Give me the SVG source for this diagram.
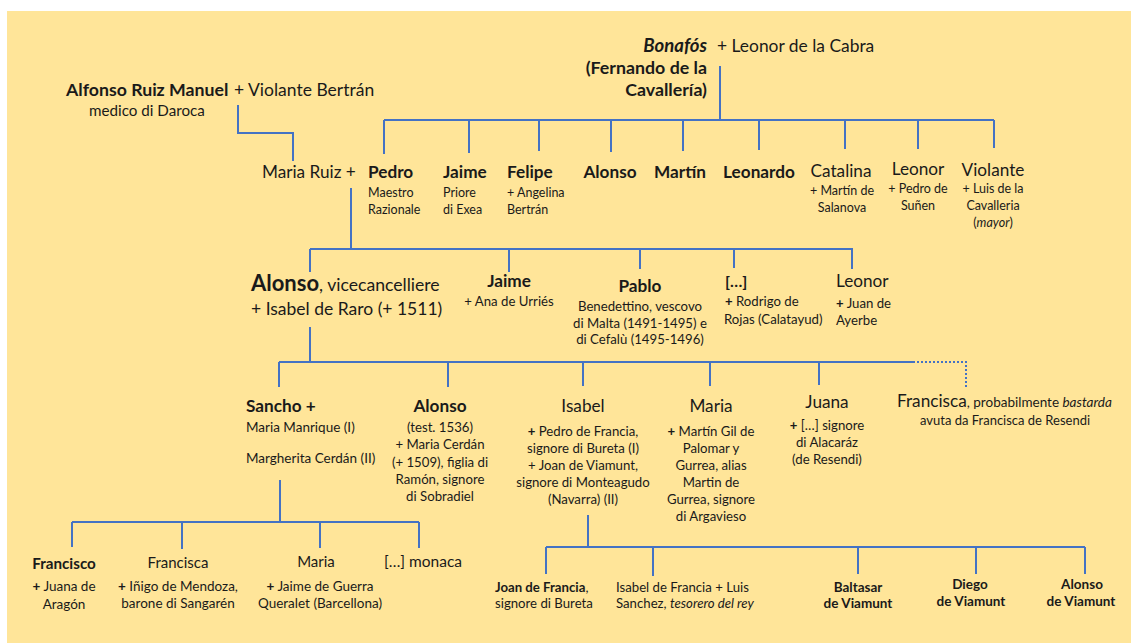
<svg xmlns="http://www.w3.org/2000/svg" width="1131" height="643" viewBox="0 0 1131 643">
  <style>
    text { font-family: Lato, "Open Sans", "Liberation Sans", sans-serif; fill: #1a1a1a; }
    .nm { font-size: 17.2px; }
    .bn { font-size: 17.2px; font-weight: bold; }
    .sm { font-size: 12.5px; }
    .md { font-size: 13.2px; }
    .b { font-weight: bold; }
    .i { font-style: italic; }
    .c { text-anchor: middle; }
    .e { text-anchor: end; }
    .ln { fill: none; stroke: #4472C4; stroke-width: 2; }
    .dot { fill: none; stroke: #4472C4; stroke-width: 2; stroke-dasharray: 2 2; }
  </style>

  <!-- page background -->
  <rect x="7" y="11" width="1124" height="632" fill="#FFE599"/>

  <!-- connectors -->
  <g id="connectors">
    <path class="ln" d="M238,105 V133 H293 V161"/>
    <path class="ln" d="M720,66 V120"/>
    <path class="ln" d="M384,120 H994"/>
    <path class="ln" d="M384,120 V154 M469,120 V153 M539,120 V151 M611,120 V152 M683,120 V151 M759,120 V150 M845,120 V149 M918,120 V149 M994,120 V148"/>

    <path class="ln" d="M351,188 V249"/>
    <path class="ln" d="M310,249 H852 V269"/>
    <path class="ln" d="M310,249 V272 M509,249 V272 M640,249 V269 M734,249 V268"/>

    <path class="ln" d="M310,327 V362"/>
    <path class="ln" d="M279,362 H913"/>
    <path class="dot" d="M913,362 H966 V387"/>
    <path class="ln" d="M279,362 V387 M448,362 V387 M583,362 V386 M710,362 V386 M819,362 V385"/>

    <path class="ln" d="M280,480 V522"/>
    <path class="ln" d="M72,522 H419"/>
    <path class="ln" d="M72,522 V547 M182,522 V549 M320,522 V548 M419,522 V548"/>

    <path class="ln" d="M588,515 V547"/>
    <path class="ln" d="M546,547 H1085"/>
    <path class="ln" d="M546,547 V574 M653,547 V576 M858,547 V574 M976,547 V574 M1085,547 V574"/>
  </g>

  <!-- first generation -->
  <g id="bonafos">
    <text x="707" y="52" class="e b i" font-size="18.5">Bonafós</text>
    <text x="717" y="52" font-size="17.4">+ Leonor de la Cabra</text>
    <text x="707" y="74" class="e b" font-size="17.8">(Fernando de la</text>
    <text x="707" y="96" class="e b" font-size="17.8">Cavallería)</text>
  </g>
  <g id="alfonso-ruiz">
    <text x="66" y="96" class="b" font-size="17.7">Alfonso Ruiz Manuel</text>
    <text x="234" y="96" font-size="17.5">+ Violante Bertrán</text>
    <text x="89" y="116" font-size="15.2">medico di Daroca</text>
  </g>

  <!-- second generation -->
  <g id="maria-ruiz">
    <text x="262" y="178" class="nm">Maria Ruiz +</text>
  </g>
  <g id="pedro">
    <text x="368" y="178" class="bn">Pedro</text>
    <text x="368" y="197" class="sm">Maestro</text>
    <text x="368" y="214" class="sm">Razionale</text>
  </g>
  <g id="jaime-1">
    <text x="443" y="178" class="bn">Jaime</text>
    <text x="443" y="197" class="sm">Priore</text>
    <text x="443" y="214" class="sm">di Exea</text>
  </g>
  <g id="felipe">
    <text x="507" y="178" class="bn">Felipe</text>
    <text x="507" y="197" class="sm">+ Angelina</text>
    <text x="507" y="214" class="sm">Bertrán</text>
  </g>
  <g id="alonso-1">
    <text x="610" y="178" class="bn c">Alonso</text>
  </g>
  <g id="martin">
    <text x="680" y="178" class="bn c">Martín</text>
  </g>
  <g id="leonardo">
    <text x="759" y="178" class="bn c">Leonardo</text>
  </g>
  <g id="catalina">
    <text x="841" y="177" class="nm c">Catalina</text>
    <text x="842" y="195" class="sm c">+ Martín de</text>
    <text x="842" y="212" class="sm c">Salanova</text>
  </g>
  <g id="leonor-1">
    <text x="918" y="175" class="nm c">Leonor</text>
    <text x="918" y="193" class="sm c">+ Pedro de</text>
    <text x="918" y="210" class="sm c">Suñen</text>
  </g>
  <g id="violante">
    <text x="993" y="176" class="nm c">Violante</text>
    <text x="993" y="193" class="sm c">+ Luis de la</text>
    <text x="993" y="210" class="sm c">Cavalleria</text>
    <text x="993" y="227" class="sm c">(<tspan class="i">mayor</tspan>)</text>
  </g>

  <!-- third generation -->
  <g id="alonso-vicecancelliere">
    <text x="251" y="291" font-size="17.6"><tspan class="b" font-size="22">Alonso</tspan>, vicecancelliere</text>
    <text x="251" y="315" font-size="17.5">+ Isabel de Raro (+ 1511)</text>
  </g>
  <g id="jaime-2">
    <text x="509" y="287" class="bn c">Jaime</text>
    <text x="509" y="306" class="md c">+ Ana de Urriés</text>
  </g>
  <g id="pablo">
    <text x="640" y="292" class="bn c">Pablo</text>
    <text x="640" y="311" class="md c">Benedettino, vescovo</text>
    <text x="640" y="328" class="md c">di Malta (1491-1495) e</text>
    <text x="640" y="344" class="md c">di Cefalù (1495-1496)</text>
  </g>
  <g id="unknown-3">
    <text x="725" y="287" class="b" font-size="16">[…]</text>
    <text x="725" y="306" class="md"><tspan class="b">+</tspan> Rodrigo de</text>
    <text x="724" y="324" class="md">Rojas (Calatayud)</text>
  </g>
  <g id="leonor-2">
    <text x="836" y="287" class="nm">Leonor</text>
    <text x="836" y="308" class="md"><tspan class="b">+</tspan> Juan de</text>
    <text x="836" y="325" class="md">Ayerbe</text>
  </g>

  <!-- fourth generation -->
  <g id="sancho">
    <text x="246" y="412" class="bn">Sancho +</text>
    <text x="246" y="432" font-size="13.5">Maria Manrique (I)</text>
    <text x="246" y="463" font-size="13.5">Margherita Cerdán (II)</text>
  </g>
  <g id="alonso-test">
    <text x="440" y="412" class="bn c">Alonso</text>
    <text x="440" y="432" class="md c">(test. 1536)</text>
    <text x="440" y="449" class="md c">+ Maria Cerdán</text>
    <text x="440" y="467" class="md c">(+ 1509), figlia di</text>
    <text x="440" y="484" class="md c">Ramón, signore</text>
    <text x="440" y="501" class="md c">di Sobradiel</text>
  </g>
  <g id="isabel">
    <text x="583" y="412" class="nm c">Isabel</text>
    <text x="583" y="436" class="md c"><tspan class="b">+</tspan> Pedro de Francia,</text>
    <text x="583" y="453" class="md c">signore di Bureta (I)</text>
    <text x="583" y="470" class="md c">+ Joan de Viamunt,</text>
    <text x="583" y="487" class="md c">signore di Monteagudo</text>
    <text x="583" y="504" class="md c">(Navarra) (II)</text>
  </g>
  <g id="maria-2">
    <text x="711" y="412" class="nm c">Maria</text>
    <text x="711" y="436" class="md c"><tspan class="b">+</tspan> Martín Gil de</text>
    <text x="711" y="453" class="md c">Palomar y</text>
    <text x="711" y="470" class="md c">Gurrea, alias</text>
    <text x="711" y="487" class="md c">Martin de</text>
    <text x="711" y="504" class="md c">Gurrea, signore</text>
    <text x="711" y="521" class="md c">di Argavieso</text>
  </g>
  <g id="juana">
    <text x="827" y="408" class="nm c">Juana</text>
    <text x="827" y="430" class="md c"><tspan class="b">+</tspan> […] signore</text>
    <text x="827" y="447" class="md c">di Alacaráz</text>
    <text x="827" y="464" class="md c">(de Resendi)</text>
  </g>
  <g id="francisca-1">
    <text x="897" y="407" class="nm">Francisca<tspan font-size="13.5">, probabilmente <tspan class="i">bastarda</tspan></tspan></text>
    <text x="1005" y="425" class="c" font-size="13">avuta da Francisca de Resendi</text>
  </g>

  <!-- fifth generation: children of Sancho -->
  <g id="francisco">
    <text x="64" y="569" class="c b" font-size="15.2">Francisco</text>
    <text x="64" y="591" class="c" font-size="13.5"><tspan class="b">+</tspan> Juana de</text>
    <text x="64" y="609" class="c" font-size="13.5">Aragón</text>
  </g>
  <g id="francisca-2">
    <text x="178" y="568" class="c" font-size="15">Francisca</text>
    <text x="178" y="591" class="c" font-size="13.5"><tspan class="b">+</tspan> Iñigo de Mendoza,</text>
    <text x="178" y="608" class="c" font-size="13.5">barone di Sangarén</text>
  </g>
  <g id="maria-3">
    <text x="316" y="567" class="c" font-size="15">Maria</text>
    <text x="320" y="591" class="c" font-size="13.5"><tspan class="b">+</tspan> Jaime de Guerra</text>
    <text x="320" y="608" class="c" font-size="13.5">Queralet (Barcellona)</text>
  </g>
  <g id="monaca">
    <text x="384" y="567" font-size="15.5">[…] monaca</text>
  </g>

  <!-- fifth generation: children of Isabel -->
  <g id="joan-de-francia">
    <text x="495" y="592" class="md"><tspan class="b">Joan de Francia</tspan>,</text>
    <text x="495" y="608" class="md">signore di Bureta</text>
  </g>
  <g id="isabel-de-francia">
    <text x="616" y="592" class="md">Isabel de Francia + Luis</text>
    <text x="616" y="608" class="md">Sanchez, <tspan class="i">tesorero del rey</tspan></text>
  </g>
  <g id="baltasar">
    <text x="858" y="592" class="c b" font-size="13.5">Baltasar</text>
    <text x="858" y="608" class="c b" font-size="13.5">de Viamunt</text>
  </g>
  <g id="diego">
    <text x="970" y="589" class="c b" font-size="13.5">Diego</text>
    <text x="971" y="606" class="c b" font-size="13.5">de Viamunt</text>
  </g>
  <g id="alonso-viamunt">
    <text x="1082" y="589" class="c b" font-size="13.5">Alonso</text>
    <text x="1081" y="606" class="c b" font-size="13.5">de Viamunt</text>
  </g>
</svg>
